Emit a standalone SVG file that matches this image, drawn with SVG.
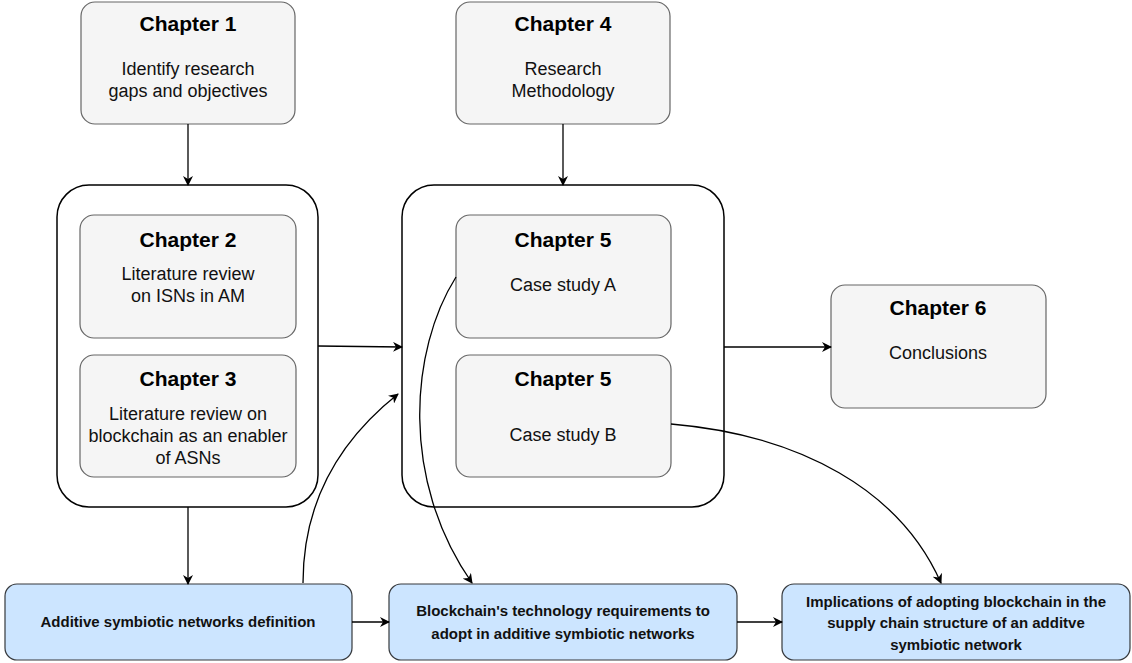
<svg xmlns="http://www.w3.org/2000/svg" width="1132" height="663" viewBox="0 0 1132 663">
<style>
.gray{fill:#f5f5f5;stroke:#666;stroke-width:1.2}
.cont{fill:#fff;stroke:#000;stroke-width:1.5}
.blue{fill:#cce5ff;stroke:#36393d;stroke-width:1.2}
.t{font-family:"Liberation Sans",Arial,sans-serif;font-weight:bold;font-size:21px;fill:#000;text-anchor:middle}
.b{font-family:"Liberation Sans",Arial,sans-serif;font-size:18px;fill:#111;text-anchor:middle}
.s{font-family:"Liberation Sans",Arial,sans-serif;font-weight:bold;font-size:15px;fill:#111;text-anchor:middle}
.c{fill:none;stroke:#000;stroke-width:1.3}
</style>
<defs>
<marker id="ah" viewBox="0 0 10 10" refX="9" refY="5" markerWidth="10" markerHeight="10" markerUnits="userSpaceOnUse" orient="auto">
<path d="M0,0 L10,5 L0,10 L3,5 z" fill="#000"/>
</marker>
</defs>
<rect width="1132" height="663" fill="#fff"/>
<g id="container1"><rect class="cont" x="57" y="185" width="261" height="322" rx="32"/></g>
<g id="container2"><rect class="cont" x="402" y="185" width="322" height="322" rx="32"/></g>
<g id="ch1"><rect class="gray" x="81" y="2" width="214" height="122" rx="14"/>
<text class="t" x="188" y="31">Chapter 1</text>
<text class="b" x="188" y="75">Identify research</text>
<text class="b" x="188" y="97">gaps and objectives</text></g>
<g id="ch4"><rect class="gray" x="456" y="2" width="214" height="122" rx="14"/>
<text class="t" x="563" y="31">Chapter 4</text>
<text class="b" x="563" y="75">Research</text>
<text class="b" x="563" y="97">Methodology</text></g>
<g id="ch2"><rect class="gray" x="80" y="215" width="216" height="123" rx="14"/>
<text class="t" x="188" y="247">Chapter 2</text>
<text class="b" x="188" y="280">Literature review</text>
<text class="b" x="188" y="302">on ISNs in AM</text></g>
<g id="ch3"><rect class="gray" x="80" y="355" width="216" height="122" rx="14"/>
<text class="t" x="188" y="386">Chapter 3</text>
<text class="b" x="188" y="420">Literature review on</text>
<text class="b" x="188" y="442">blockchain as an enabler</text>
<text class="b" x="188" y="464">of ASNs</text></g>
<g id="ch5a"><rect class="gray" x="456" y="215" width="215" height="123" rx="14"/>
<text class="t" x="563" y="247">Chapter 5</text>
<text class="b" x="563" y="291">Case study A</text></g>
<g id="ch5b"><rect class="gray" x="456" y="355" width="215" height="122" rx="14"/>
<text class="t" x="563" y="386">Chapter 5</text>
<text class="b" x="563" y="441">Case study B</text></g>
<g id="ch6"><rect class="gray" x="831" y="285" width="215" height="123" rx="14"/>
<text class="t" x="938" y="315">Chapter 6</text>
<text class="b" x="938" y="359">Conclusions</text></g>
<g id="asn-def"><rect class="blue" x="5" y="584" width="347" height="76" rx="12"/>
<text class="s" x="178" y="627">Additive symbiotic networks definition</text></g>
<g id="bc-req"><rect class="blue" x="389" y="584" width="348" height="76" rx="12"/>
<text class="s" x="563" y="616">Blockchain's technology requirements to</text>
<text class="s" x="563" y="639">adopt in additive symbiotic networks</text></g>
<g id="implications"><rect class="blue" x="782" y="584" width="348" height="76" rx="12"/>
<text class="s" x="956" y="607">Implications of adopting blockchain in the</text>
<text class="s" x="956" y="628">supply chain structure of an additve</text>
<text class="s" x="956" y="650">symbiotic network</text></g>
<g id="connectors">
<path class="c" d="M188,124 L188,185" marker-end="url(#ah)"/>
<path class="c" d="M563,124 L563,185" marker-end="url(#ah)"/>
<path class="c" d="M318,346 L402,347" marker-end="url(#ah)"/>
<path class="c" d="M724,347 L831,347" marker-end="url(#ah)"/>
<path class="c" d="M188,507 L188,584" marker-end="url(#ah)"/>
<path class="c" d="M352,622 L389,622" marker-end="url(#ah)"/>
<path class="c" d="M737,622 L782,622" marker-end="url(#ah)"/>
<path class="c" d="M303,583 C303,500 340,440 398,394" marker-end="url(#ah)"/>
<path class="c" d="M456,277 C410,350 400,480 472,583" marker-end="url(#ah)"/>
<path class="c" d="M671,424 C800,435 900,490 941,583" marker-end="url(#ah)"/>
</g>
</svg>
